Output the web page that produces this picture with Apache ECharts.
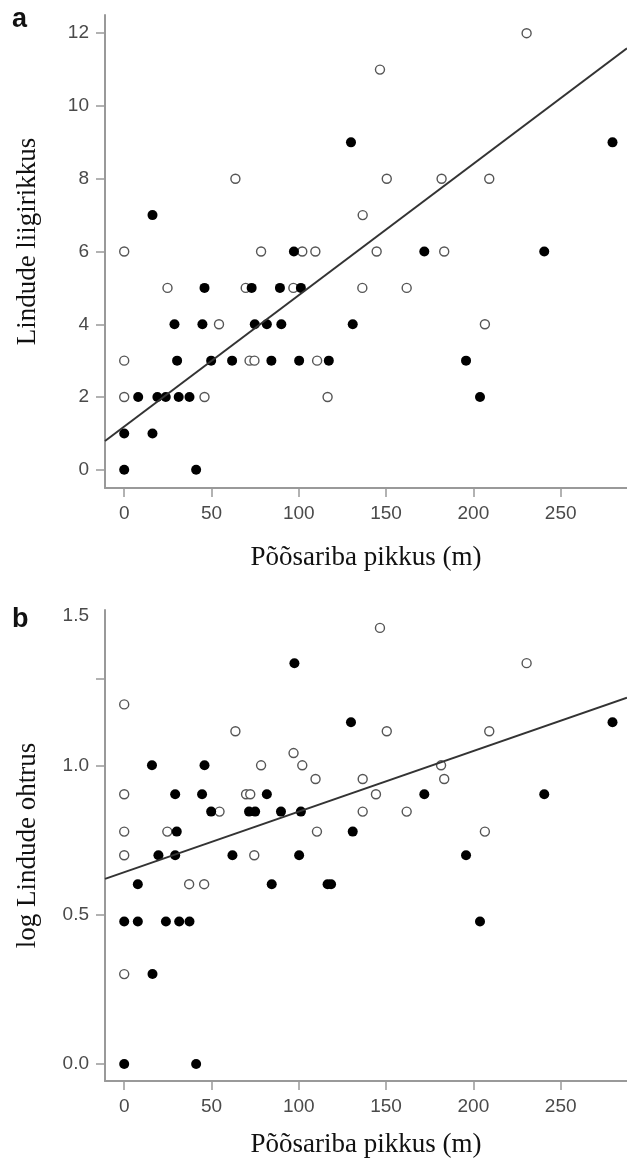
<!DOCTYPE html>
<html>
<head>
<meta charset="utf-8">
<script src="https://cdn.jsdelivr.net/npm/echarts@6/dist/echarts.min.js"></script>
<style>
  html, body { margin: 0; padding: 0; background: #fff; }
  #chart { width: 627px; height: 1159px; }
</style>
</head>
<body>
<div id="chart"></div>
<script>
// a: liigirikkus, tühjad ja täidetud ringid
var openA = [
  [230.5, 12], [146.5, 11],
  [63.7, 8], [150.4, 8], [181.8, 8], [209.1, 8],
  [136.6, 7],
  [0, 6], [78.4, 6], [102, 6], [109.5, 6], [144.6, 6], [183.3, 6],
  [24.8, 5], [69.6, 5], [96.9, 5], [136.4, 5], [161.8, 5],
  [54.3, 4], [206.6, 4],
  [0, 3], [71.8, 3], [74.6, 3], [110.5, 3],
  [0, 2], [46, 2], [116.5, 2]
];
var filledA = [
  [129.9, 9], [279.7, 9],
  [16.2, 7],
  [97.2, 6], [171.9, 6], [240.6, 6],
  [46, 5], [73, 5], [89.2, 5], [101.2, 5],
  [28.8, 4], [44.8, 4], [74.8, 4], [81.7, 4], [90, 4], [130.9, 4],
  [30.3, 3], [49.8, 3], [61.8, 3], [84.3, 3], [100.2, 3], [117.2, 3], [195.8, 3],
  [8, 2], [19, 2], [23.8, 2], [31.2, 2], [37.4, 2], [203.8, 2],
  [0, 1], [16.2, 1],
  [0, 0], [41.2, 0]
];
// b: log ohtrus
var openB = [
  [146.5, 1.46], [230.5, 1.342], [0, 1.204],
  [63.7, 1.114], [150.4, 1.114], [209.1, 1.114],
  [97, 1.041],
  [78.4, 1.0], [102, 1.0], [181.5, 1.0],
  [109.6, 0.954], [136.6, 0.954], [183.3, 0.954],
  [0, 0.903], [69.8, 0.903], [72.2, 0.903], [144.2, 0.903],
  [54.6, 0.845], [136.6, 0.845], [161.8, 0.845],
  [0, 0.778], [24.7, 0.778], [110.4, 0.778], [206.6, 0.778],
  [0, 0.699], [74.5, 0.699],
  [37.2, 0.602], [45.8, 0.602],
  [0, 0.301]
];
var filledB = [
  [97.5, 1.342],
  [129.9, 1.144], [279.7, 1.144],
  [15.9, 1.0], [46, 1.0],
  [29.2, 0.903], [44.6, 0.903], [81.7, 0.903], [171.9, 0.903], [240.6, 0.903],
  [49.8, 0.845], [71.5, 0.845], [75, 0.845], [89.8, 0.845], [101.2, 0.845],
  [30.1, 0.778], [130.9, 0.778],
  [19.6, 0.699], [29.2, 0.699], [62, 0.699], [100.2, 0.699], [195.8, 0.699],
  [7.8, 0.602], [84.5, 0.602], [116.5, 0.602], [118.5, 0.602],
  [0, 0.477], [7.8, 0.477], [23.9, 0.477], [31.5, 0.477], [37.4, 0.477], [203.8, 0.477],
  [16.2, 0.301],
  [0, 0], [41.2, 0]
];
// regressioonijooned: [vabaliige, tõus]
var fitA = [1.19, 0.0361];
var fitB = [0.642, 0.00203];

var xTicks = [0, 50, 100, 150, 200, 250];
var yTicksA = [0, 2, 4, 6, 8, 10, 12];
var yTicksB = [0, 0.5, 1.0, 1.29];
var yLabelsB = [0, 0.5, 1.0, 1.5];
var xMin = -11, xMax = 288;

function fitLine(f) {
  return [[xMin, f[0] + f[1] * xMin], [xMax, f[0] + f[1] * xMax]];
}

var axisGray = '#999';
var labelStyle = { fontFamily: 'Liberation Sans', fontSize: 19, color: '#4a4a4a' };
var nameStyle = { fontFamily: 'Liberation Serif', fontSize: 27, color: '#111' };

function xAxisCfg(idx, gap) {
  return {
    type: 'value', gridIndex: idx, min: xMin, max: xMax,
    name: 'Põõsariba pikkus (m)', nameLocation: 'middle', nameGap: gap,
    nameTextStyle: nameStyle,
    axisLine: { show: true, onZero: false, lineStyle: { color: axisGray, width: 2 } },
    axisTick: { show: true, length: 9, customValues: xTicks, lineStyle: { color: axisGray, width: 1.5 } },
    axisLabel: Object.assign({ margin: 16, customValues: xTicks }, labelStyle),
    splitLine: { show: false }
  };
}

var openStyle = { color: '#fff', borderColor: '#555', borderWidth: 1.4, opacity: 1 };
var filledStyle = { color: '#000', opacity: 1 };

var myChart = echarts.init(document.getElementById('chart'));
var option = {
  animation: false,
  backgroundColor: '#fff',
  title: [
    { text: 'a', left: 12, top: 6, padding: 0, textStyle: { fontFamily: 'Liberation Sans', fontWeight: 'bold', fontSize: 27, color: '#111' } },
    { text: 'b', left: 12, top: 606, padding: 0, textStyle: { fontFamily: 'Liberation Sans', fontWeight: 'bold', fontSize: 27, color: '#111' } }
  ],
  grid: [
    { left: 105, right: 0, top: 15, height: 473 },
    { left: 105, right: 0, top: 610, height: 473 }
  ],
  xAxis: [xAxisCfg(0, 56), xAxisCfg(1, 50)],
  yAxis: [
    {
      type: 'value', gridIndex: 0, min: -0.5, max: 12.5,
      name: 'Lindude liigirikkus', nameLocation: 'middle', nameGap: 64,
      nameTextStyle: Object.assign({ padding: [0, 0, 0, 20] }, nameStyle),
      axisLine: { show: true, onZero: false, lineStyle: { color: axisGray, width: 2 } },
      axisTick: { show: true, length: 9, customValues: yTicksA, lineStyle: { color: axisGray, width: 1.5 } },
      axisLabel: Object.assign({ margin: 16, customValues: yTicksA }, labelStyle),
      splitLine: { show: false }
    },
    {
      type: 'value', gridIndex: 1, min: -0.057, max: 1.52,
      name: 'log Lindude ohtrus', nameLocation: 'middle', nameGap: 64,
      nameTextStyle: nameStyle,
      axisLine: { show: true, onZero: false, lineStyle: { color: axisGray, width: 2 } },
      axisTick: { show: true, length: 9, customValues: yTicksB, lineStyle: { color: axisGray, width: 1.5 } },
      axisLabel: Object.assign({
        margin: 16, customValues: yLabelsB,
        formatter: function (v) { return v.toFixed(1); }
      }, labelStyle),
      splitLine: { show: false }
    }
  ],
  series: [
    {
      type: 'scatter', xAxisIndex: 0, yAxisIndex: 0, data: openA,
      symbol: 'circle', symbolSize: 9, itemStyle: openStyle
    },
    {
      type: 'scatter', xAxisIndex: 0, yAxisIndex: 0, data: filledA,
      symbol: 'circle', symbolSize: 10, itemStyle: filledStyle
    },
    {
      type: 'line', xAxisIndex: 0, yAxisIndex: 0, data: fitLine(fitA),
      showSymbol: false, silent: true,
      lineStyle: { color: '#333', width: 2 }
    },
    {
      type: 'scatter', xAxisIndex: 1, yAxisIndex: 1, data: openB,
      symbol: 'circle', symbolSize: 9, itemStyle: openStyle
    },
    {
      type: 'scatter', xAxisIndex: 1, yAxisIndex: 1, data: filledB,
      symbol: 'circle', symbolSize: 10, itemStyle: filledStyle
    },
    {
      type: 'line', xAxisIndex: 1, yAxisIndex: 1, data: fitLine(fitB),
      showSymbol: false, silent: true,
      lineStyle: { color: '#333', width: 2 }
    }
  ]
};
myChart.setOption(option);
</script>
</body>
</html>
